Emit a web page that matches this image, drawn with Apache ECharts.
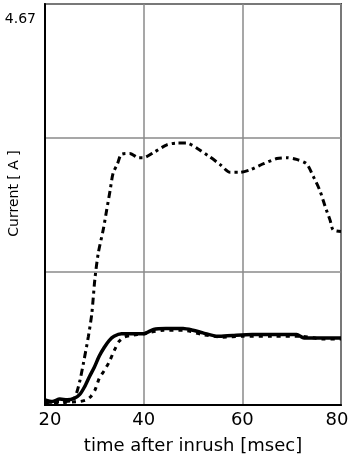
<!DOCTYPE html>
<html>
<head>
<meta charset="utf-8">
<script src="https://cdn.jsdelivr.net/npm/echarts@6/dist/echarts.min.js"></script>
<style>
html,body{margin:0;padding:0;background:#fff;}
#c{width:351px;height:462px;}
</style>
</head>
<body>
<div id="c"></div>
<script>
// x-axis tick values
var xTicks = [20, 40, 60, 80];
var yMax = 4.67;
var yLabel = '4.67';

// solid line
var solidT = [20, 21.5, 23, 24.5, 26, 27, 28, 29, 30, 31, 32, 33, 34, 35.5, 37, 40, 42, 44.5, 48, 50, 52, 55, 58, 62, 66, 71, 72.5, 80];
var solidV = [0.06, 0.04, 0.07, 0.06, 0.08, 0.12, 0.21, 0.33, 0.44, 0.57, 0.67, 0.75, 0.80, 0.83, 0.83, 0.83, 0.88, 0.89, 0.89, 0.87, 0.84, 0.80, 0.81, 0.82, 0.82, 0.82, 0.78, 0.78];

// short-dashed line
var dashT = [20, 24, 27, 28.4, 29.3, 30.1, 31, 32, 33, 34, 35, 36, 37.5, 40, 44, 48, 52, 56, 60, 66, 72, 76, 80];
var dashV = [0.02, 0.03, 0.04, 0.06, 0.10, 0.17, 0.31, 0.40, 0.50, 0.63, 0.74, 0.79, 0.81, 0.83, 0.87, 0.87, 0.82, 0.79, 0.80, 0.80, 0.80, 0.77, 0.77];

// dash-dot line
var dotT = [20, 24, 25.7, 26.4, 27.1, 27.8, 28.8, 29.5, 30.1, 30.8, 31.8, 32.5, 33.2, 33.8, 34.7, 35.5, 37.2, 38.9, 40, 42, 44.7, 46.7, 48.7, 50.8, 53.4, 55.5, 57.5, 59.5, 61.6, 64.3, 67, 69, 71, 73, 74.4, 75.7, 76.8, 77.8, 78.4, 80];
var dotV = [0.03, 0.04, 0.06, 0.14, 0.29, 0.49, 0.80, 1.07, 1.46, 1.77, 2.04, 2.27, 2.50, 2.70, 2.81, 2.92, 2.93, 2.88, 2.88, 2.94, 3.03, 3.05, 3.05, 2.99, 2.89, 2.80, 2.71, 2.71, 2.74, 2.81, 2.87, 2.88, 2.86, 2.81, 2.66, 2.50, 2.31, 2.15, 2.04, 2.02];

function pairs(t, v) { return t.map(function (x, i) { return [x, v[i]]; }); }

var font = 'DejaVu Sans';
var chart = echarts.init(document.getElementById('c'), null, {renderer: 'canvas'});
chart.setOption({
  animation: false,
  backgroundColor: '#fff',
  grid: {left: 45, top: 4, right: 10, bottom: 57, containLabel: false, outerBoundsMode: 'none',
         show: true, borderColor: '#444', borderWidth: 2, backgroundColor: 'transparent'},
  xAxis: {
    type: 'value', min: xTicks[0], max: xTicks[xTicks.length - 1], interval: xTicks[1] - xTicks[0],
    name: 'time after inrush [msec]', nameLocation: 'middle', nameGap: 32, nameMoveOverlap: false,
    nameTextStyle: {fontFamily: font, fontSize: 18, color: '#000'},
    axisLine: {show: true, lineStyle: {color: '#000', width: 2}},
    axisTick: {show: false},
    axisLabel: {
      fontFamily: font, fontSize: 18, color: '#000', margin: 6,
      formatter: function (v) {
        if (v === xTicks[0]) return '{l|' + v + '}';
        if (v === xTicks[xTicks.length - 1]) return '{r|' + v + '}';
        return '' + v;
      },
      rich: {
        l: {fontFamily: font, fontSize: 18, color: '#000', padding: [0, 0, 0, 10]},
        r: {fontFamily: font, fontSize: 18, color: '#000', padding: [0, 8, 0, 0]}
      }
    },
    splitLine: {show: true, lineStyle: {color: '#8a8a8a', width: 1.5}}
  },
  yAxis: {
    type: 'value', min: 0, max: yMax, interval: yMax / 3,
    name: 'Current [ A ]', nameLocation: 'middle', nameGap: 24, nameMoveOverlap: false,
    nameTextStyle: {fontFamily: font, fontSize: 14, color: '#000', padding: [0, 0, 0, 22]},
    axisLine: {show: true, lineStyle: {color: '#000', width: 2}},
    axisTick: {show: false},
    axisLabel: {
      fontFamily: font, fontSize: 14, color: '#000', margin: 9, verticalAlign: 'top', padding: [8, 0, 0, 0],
      formatter: function (v) { return Math.abs(v - yMax) < 0.01 ? yLabel : ''; }
    },
    splitLine: {show: true, lineStyle: {color: '#8a8a8a', width: 1.5}}
  },
  series: [
    {type: 'line', data: pairs(dotT, dotV), symbol: 'none', smooth: 0.25,
     lineStyle: {color: '#000', width: 3, type: [7, 4, 3, 4]}},
    {type: 'line', data: pairs(dashT, dashV), symbol: 'none', smooth: 0.25,
     lineStyle: {color: '#000', width: 3, type: [4, 5]}},
    {type: 'line', data: pairs(solidT, solidV), symbol: 'none', smooth: 0.25,
     lineStyle: {color: '#000', width: 3.5}}
  ]
});
</script>
</body>
</html>
